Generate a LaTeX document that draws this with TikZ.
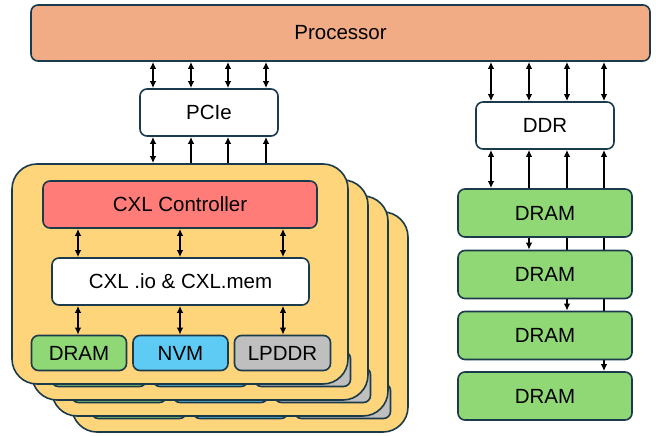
\documentclass[tikz,border=0pt]{standalone}
\usepackage{fontspec}
\setmainfont{Liberation Sans}
\usetikzlibrary{arrows.meta,backgrounds}

\definecolor{edgecol}{HTML}{1B3B4C}
\definecolor{proccol}{HTML}{F1AC86}
\definecolor{cardcol}{HTML}{FED57B}
\definecolor{ctrlcol}{HTML}{FF7C78}
\definecolor{dramcol}{HTML}{8FD875}
\definecolor{nvmcol}{HTML}{5DCBF3}
\definecolor{lpcol}{HTML}{BFBFBF}

\tikzset{
  blk/.style={draw=edgecol, line width=1.6pt, rounded corners=7pt, inner sep=0pt,
    font=\fontsize{20.5}{24}\selectfont},
  link/.style={line width=1.9pt, {Latex[length=7pt,width=6.5pt]}-{Latex[length=7pt,width=6.5pt]}}
}

\begin{document}
\begin{tikzpicture}[x=1pt,y=-1pt]
    \useasboundingbox (0,0) rectangle (656,436);

    % processor
    \node[blk, fill=proccol, minimum width=619pt, minimum height=56pt] (proc) at (340.5,33) {Processor};

    % pcie and ddr
    \node[blk, fill=white, minimum width=138pt, minimum height=47pt] (pcie) at (209,112.5) {PCIe};
    \node[blk, fill=white, minimum width=138pt, minimum height=47pt] (ddr) at (545,125.5) {DDR};

    \foreach \x in {153,191,228,266}
        \draw[link] (\x,0 |- proc.south) -- (\x,0 |- pcie.north);
    \foreach \x in {491,529,567,604}
        \draw[link] (\x,0 |- proc.south) -- (\x,0 |- ddr.north);

    % stacked CXL cards, back to front
    \foreach \k in {3,2,1,0} {
      \begin{scope}[shift={(20*\k,16*\k)}]
        \node[blk, fill=cardcol, rounded corners=25pt, minimum width=336pt, minimum height=220pt] (card\k) at (180,274) {};
        \node[blk, fill=ctrlcol, minimum width=274pt, minimum height=47pt] (ctrl\k) at (180,204.5) {CXL Controller};
        \node[blk, fill=white, minimum width=257pt, minimum height=47pt] (mem\k) at (180.5,281.5) {CXL .io \& CXL.mem};
        \node[blk, fill=dramcol, minimum width=95pt, minimum height=35pt] (dram\k) at (79,353) {DRAM};
        \node[blk, fill=nvmcol, minimum width=95pt, minimum height=35pt] (nvm\k) at (180.5,353) {NVM};
        \node[blk, fill=lpcol, minimum width=96pt, minimum height=35pt] (lpddr\k) at (282.5,353) {LPDDR};
        \foreach \x/\m in {78/dram,180/nvm,283/lpddr} {
          \draw[link] (\x,0 |- ctrl\k.south) -- (\x,0 |- mem\k.north);
          \draw[link] (\x,0 |- mem\k.south) -- (\x,0 |- \m\k.north);
        }
      \end{scope}
    }

    % memory stack on the DDR side
    \foreach \i/\y in {1/213,2/274.5,3/335.5,4/396}
        \node[blk, fill=dramcol, minimum width=174pt, minimum height=48pt] (mod\i) at (545,\y) {DRAM};

    % links that run behind the boxes
    \begin{scope}[on background layer]
      \foreach \x/\k in {153/0,191/1,228/2,266/3}
          \draw[link] (\x,0 |- pcie.south) -- (\x,0 |- card\k.north);
      \foreach \x/\i in {491/1,529/2,567/3,604/4}
          \draw[link] (\x,0 |- ddr.south) -- (\x,0 |- mod\i.north);
    \end{scope}

\end{tikzpicture}
\end{document}
